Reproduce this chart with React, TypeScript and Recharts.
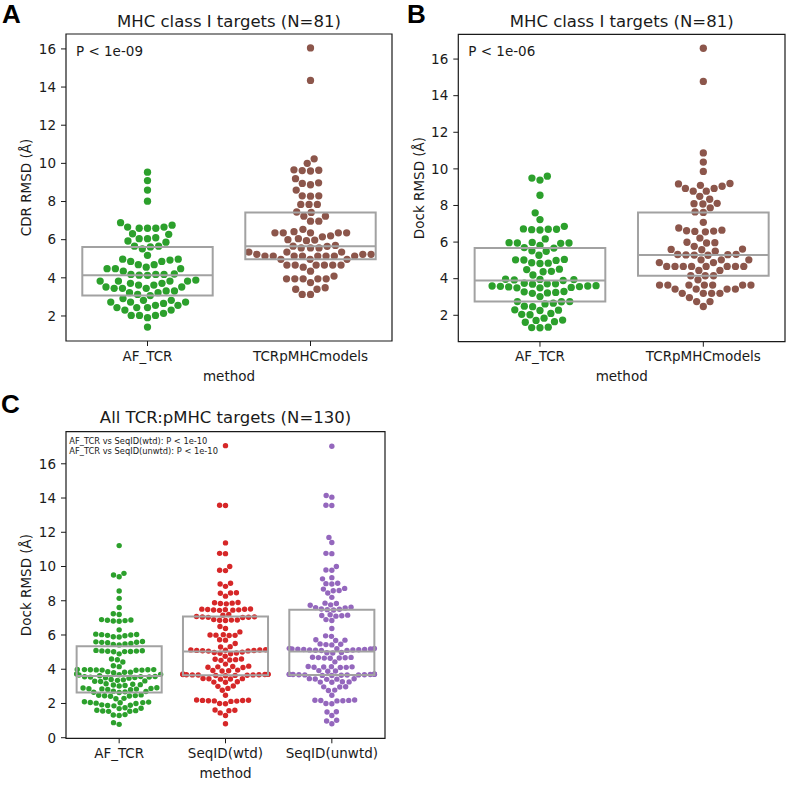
import React from "react";
import { ScatterChart, Scatter, XAxis, YAxis, ReferenceArea, ReferenceLine } from "recharts";

const FONT = "'DejaVu Sans', Verdana, sans-serif";

// --- panels A / B: MHC class I targets (N=81) ---
const mhcMethods = ["AF_TCR", "TCRpMHCmodels"];
const cdrAfTcr = [
    9.54, 9.1, 8.6, 8.02, 6.89, 6.76, 6.66, 6.66, 6.6, 6.6, 6.6, 6.31, 6.28, 6.1, 6.05, 6.05, 5.93, 5.87, 5.66, 5.66,
    5.62, 5.52, 5.18, 4.98, 4.98, 4.93, 4.86, 4.86, 4.69, 4.69, 4.56, 4.48, 4.48, 4.48, 4.35, 4.18, 4.18, 4.18, 4.2,
    4.14, 4.13, 3.88, 3.83, 3.83, 3.83, 3.83, 3.71, 3.71, 3.62, 3.62, 3.52, 3.52, 3.45, 3.45, 3.45, 3.31, 3.31, 3.22,
    3.22, 3.13, 3.07, 2.91, 2.82, 2.82, 2.73, 2.73, 2.73, 2.66, 2.56, 2.56, 2.44, 2.44, 2.44, 2.31, 2.31, 2.14, 2.03,
    2.03, 2.03, 1.91, 1.42,
];
const cdrModels = [
    16.05, 14.35, 10.24, 10.0, 9.66, 9.64, 9.62, 9.6, 9.2, 8.98, 8.95, 8.88, 8.6, 8.3, 8.3, 8.28, 7.85, 7.85, 7.85,
    7.45, 7.43, 7.23, 7.23, 6.97, 6.97, 6.54, 6.42, 6.36, 6.36, 6.36, 6.36, 6.36, 6.2, 6.15, 6.05, 6.0, 5.98, 5.95,
    5.7, 5.66, 5.65, 5.57, 5.57, 5.57, 5.35, 5.35, 5.35, 5.23, 5.23, 5.23, 5.14, 5.14, 5.14, 5.14, 5.14, 5.14, 5.14,
    5.14, 4.97, 4.97, 4.97, 4.67, 4.67, 4.67, 4.67, 4.67, 4.67, 4.56, 4.35, 4.09, 3.95, 3.95, 3.95, 3.95, 3.95, 3.75,
    3.48, 3.4, 3.4, 3.13, 3.13,
];
const dockAfTcr = [
    9.6, 9.5, 9.39, 8.56, 7.6, 7.23, 6.86, 6.72, 6.7, 6.7, 6.68, 6.66, 6.17, 5.98, 5.97, 5.95, 5.95, 5.93, 5.82, 5.7,
    5.67, 5.52, 5.5, 5.28, 5.05, 5.03, 5.02, 5.0, 4.87, 4.85, 4.83, 4.52, 4.5, 4.4, 4.38, 4.2, 3.97, 3.96, 3.95, 3.93,
    3.9, 3.75, 3.72, 3.72, 3.7, 3.62, 3.6, 3.6, 3.58, 3.57, 3.55, 3.52, 3.5, 3.5, 3.3, 3.28, 3.25, 3.22, 3.2, 3.02,
    2.75, 2.74, 2.75, 2.66, 2.62, 2.5, 2.47, 2.3, 2.28, 2.26, 2.1, 2.05, 2.03, 1.84, 1.74, 1.72, 1.65, 1.62, 1.35, 1.33,
    1.32,
];
const dockModels = [
    16.59, 14.78, 10.87, 10.37, 9.86, 9.2, 9.18, 9.1, 9.05, 8.93, 8.93, 8.78, 8.78, 8.5, 8.34, 8.12, 8.1, 8.08, 7.87,
    7.65, 7.62, 7.08, 6.77, 6.65, 6.62, 6.6, 6.58, 6.56, 6.22, 5.99, 5.97, 5.95, 5.77, 5.62, 5.6, 5.58, 5.5, 5.33,
    5.32, 5.31, 5.3, 5.29, 5.28, 5.03, 5.03, 5.03, 4.88, 4.88, 4.67, 4.67, 4.67, 4.67, 4.67, 4.67, 4.67, 4.67, 4.45,
    4.45, 4.16, 4.16, 4.16, 3.94, 3.65, 3.65, 3.65, 3.65, 3.65, 3.65, 3.65, 3.43, 3.43, 3.43, 3.43, 3.2, 3.2, 3.2, 3.2,
    2.97, 2.75, 2.75, 2.48,
];
const mhcTicks = [2, 4, 6, 8, 10, 12, 14, 16];

// --- panel C: all TCR:pMHC targets (N=130) ---
const allMethods = ["AF_TCR", "SeqID(wtd)", "SeqID(unwtd)"];
const allAfTcr = [
    11.22, 9.6, 9.5, 9.4, 8.57, 8.14, 7.61, 7.24, 7.2, 6.9, 6.88, 6.86, 6.84, 6.82, 6.8, 6.3, 6.05, 6.03, 6.02, 6.0,
    5.98, 5.96, 5.9, 5.88, 5.62, 5.6, 5.58, 5.57, 5.55, 5.5, 5.48, 5.45, 5.42,
    5.1, 5.08, 5.07, 5.06, 5.05, 5.04, 5.03, 5.02, 4.9, 4.6, 4.55, 4.42, 4.2, 4.15, 3.99, 3.98, 3.98, 3.97, 3.97, 3.96,
    3.95, 3.95, 3.94, 3.85, 3.83, 3.82, 3.8, 3.72, 3.7, 3.68, 3.66, 3.62,
    3.58, 3.57, 3.56, 3.55, 3.54, 3.52, 3.5, 3.48, 3.4, 3.38, 3.35, 3.32, 3.3, 3.28, 3.15, 3.12, 3.1, 3.08, 3.05, 3.02,
    2.92, 2.9, 2.88, 2.86, 2.85, 2.84, 2.82, 2.8, 2.72, 2.7, 2.68, 2.66, 2.64,
    2.5, 2.48, 2.46, 2.45, 2.44, 2.42, 2.3, 2.28, 2.1, 2.08, 2.06, 2.05, 2.04, 2.02, 2.0, 1.92, 1.9, 1.88, 1.86, 1.75,
    1.72, 1.7, 1.6, 1.58, 1.56, 1.55, 1.54, 1.35, 1.33, 1.3, 0.88, 0.78,
];
const allSeqWtd = [
    17.06, 13.58, 13.56, 11.38, 10.77, 10.75, 10.0, 9.78, 9.76, 9.02, 8.98, 8.84, 8.47, 8.45, 8.44, 8.27, 7.9, 7.88,
    7.86, 7.84, 7.82, 7.52, 7.51, 7.5, 7.49, 7.48, 7.47, 7.46, 7.45, 7.44, 7.2, 7.16,
    7.08, 7.06, 7.05, 7.04, 7.03, 7.02, 6.9, 6.88, 6.87, 6.86, 6.85, 6.5, 6.38, 6.18, 6.02, 6.0, 5.99, 5.98, 5.97,
    5.72, 5.7, 5.5, 5.32, 5.3, 5.14, 5.13, 5.12, 5.11, 5.1, 5.09, 5.08, 5.07, 5.06,
    5.0, 4.98, 4.95, 4.93, 4.9, 4.76, 4.6, 4.58, 4.56, 4.54, 4.52, 4.3, 4.18, 4.16, 4.14, 4.12, 4.1, 3.95, 3.93, 3.91,
    3.9, 3.72, 3.71, 3.7, 3.7, 3.69, 3.69, 3.68, 3.68, 3.67, 3.67, 3.66, 3.65,
    3.64, 3.63, 3.62, 3.46, 3.45, 3.44, 3.43, 3.42, 3.27, 3.25, 3.24, 3.02, 3.0, 2.88, 2.77, 2.48, 2.2, 2.19, 2.18,
    2.17, 2.16, 2.15, 2.14, 2.12, 2.0, 1.98, 1.62, 1.6, 1.58, 1.45, 1.3, 0.82,
];
const allSeqUnwtd = [
    17.02, 14.15, 14.05, 13.58, 13.56, 11.7, 11.4, 10.77, 10.75, 10.0, 9.8, 9.78, 9.35, 9.28, 9.02, 9.0, 8.98, 8.72,
    8.68, 8.6, 8.58, 8.45, 8.2, 7.86, 7.84, 7.76, 7.74, 7.62, 7.6, 7.58, 7.52, 7.5,
    7.48, 7.46, 7.18, 7.16, 7.14, 7.12, 7.1, 6.9, 6.85, 6.38, 5.95, 5.92, 5.72, 5.7, 5.68, 5.48, 5.46, 5.44, 5.42,
    5.22, 5.21, 5.2, 5.19, 5.18, 5.17, 5.16, 5.15, 5.14, 5.13, 5.12, 5.11, 5.1, 5.09,
    4.98, 4.96, 4.95, 4.7, 4.69, 4.68, 4.67, 4.66, 4.65, 4.64, 4.43, 4.16, 4.15, 4.14, 4.13, 4.12, 4.11, 4.1, 3.92, 3.9,
    3.88, 3.72, 3.71, 3.71, 3.7, 3.7, 3.69, 3.69, 3.68, 3.68, 3.67, 3.67, 3.66,
    3.65, 3.64, 3.63, 3.45, 3.44, 3.43, 3.42, 3.41, 3.27, 3.26, 3.25, 3.24, 2.98, 2.97, 2.96, 2.78, 2.76, 2.48, 2.2,
    2.19, 2.18, 2.17, 2.16, 2.15, 2.0, 1.98, 1.52, 1.5, 1.3, 1.02, 0.98, 0.82,
];
const allTicks = [0, 2, 4, 6, 8, 10, 12, 14, 16];

const GREEN = "#2ca02c";
const BROWN = "#8c564b";
const RED = "#d62728";
const PURPLE = "#9467bd";
const BOX = "#a2a2a2";
const INK = "#1a1a1a";

// numpy-style linear quantile
function quantile(vals: number[], q: number) {
    const s = [...vals].sort((a, b) => a - b);
    const pos = (s.length - 1) * q;
    const lo = Math.floor(pos);
    const hi = Math.ceil(pos);
    return s[lo] + (s[hi] - s[lo]) * (pos - lo);
}

// beeswarm like seaborn: lowest value first, closest free slot, then clamp to the gutters
function swarm(vals: number[], pxPerY: number, gap: number, limit: number) {
    const order = vals.map((_, i) => i).sort((a, b) => vals[a] - vals[b]);
    const placed: { x: number; y: number }[] = [];
    const out: number[] = new Array(vals.length).fill(0);
    for (const idx of order) {
        const y = vals[idx] * pxPerY;
        const near = placed.filter(p => Math.abs(p.y - y) < gap);
        const cands = [0];
        near.forEach(p => {
            const dx = Math.sqrt(gap * gap - (p.y - y) * (p.y - y));
            cands.push(p.x - dx, p.x + dx);
        });
        cands.sort((a, b) => Math.abs(a) - Math.abs(b));
        let best = 0;
        for (const c of cands) {
            if (near.every(p => (p.x - c) ** 2 + (p.y - y) ** 2 >= gap * gap - 1e-6)) {
                best = c;
                break;
            }
        }
        placed.push({ x: best, y });
        out[idx] = best;
    }
    return out.map(o => Math.max(-limit, Math.min(limit, o)));
}

interface PanelProps {
    left: number;
    top: number;
    width: number;
    height: number;
    plot: { x0: number; x1: number; y0: number; y1: number };
    methods: string[];
    series: number[][];
    colors: string[];
    yTicks: number[];
    dotR: number;
    gap: number;
}

const YW = 40;
const XH = 30;

const SwarmPanel: React.FC<PanelProps> = ({ left, top, width, height, plot, methods, series, colors, yTicks, dotR, gap }) => {
    const all = series.flat();
    const lo = Math.min(...all);
    const hi = Math.max(...all);
    const pad = (hi - lo) * 0.05;
    const yMin = lo - pad;
    const yMax = hi + pad;
    const n = methods.length;
    const pxPerY = (plot.y1 - plot.y0) / (yMax - yMin);
    const pxPerX = (plot.x1 - plot.x0) / n;

    const tickStyle = { fontSize: 13.5, fill: INK, fontFamily: FONT };

    return (
        <div style={{ position: "absolute", left, top }}>
            <ScatterChart
                width={width}
                height={height}
                margin={{ top: plot.y0, right: width - plot.x1, bottom: height - plot.y1 - XH, left: plot.x0 - YW }}
            >
                <XAxis
                    type="number"
                    dataKey="x"
                    domain={[-0.5, n - 0.5]}
                    ticks={methods.map((_, i) => i)}
                    tickFormatter={(v: number) => methods[Math.round(v)]}
                    interval={0}
                    allowDataOverflow
                    height={XH}
                    axisLine={false}
                    tickSize={5}
                    tickMargin={5}
                    stroke={INK}
                    tick={tickStyle}
                />
                <YAxis
                    type="number"
                    dataKey="y"
                    domain={[yMin, yMax]}
                    ticks={yTicks}
                    interval={0}
                    allowDataOverflow
                    width={YW}
                    axisLine={false}
                    tickSize={5}
                    tickMargin={5}
                    stroke={INK}
                    tick={tickStyle}
                />
                {series.map((vals, i) => {
                    const offs = swarm(vals, pxPerY, gap, 0.4 * pxPerX);
                    const data = vals.map((v, k) => ({ x: i + offs[k] / pxPerX, y: v }));
                    return (
                        <Scatter
                            key={methods[i]}
                            data={data}
                            fill={colors[i]}
                            isAnimationActive={false}
                            shape={(p: any) => <circle cx={p.cx} cy={p.cy} r={dotR} fill={colors[i]} />}
                        />
                    );
                })}
                {series.map((vals, i) => (
                    <ReferenceArea
                        key={"box" + i}
                        x1={i - 0.4}
                        x2={i + 0.4}
                        y1={quantile(vals, 0.25)}
                        y2={quantile(vals, 0.75)}
                        fill="none"
                        fillOpacity={0}
                        stroke={BOX}
                        strokeWidth={2}
                        zIndex={700}
                    />
                ))}
                {series.map((vals, i) => (
                    <ReferenceLine
                        key={"med" + i}
                        segment={[
                            { x: i - 0.4, y: quantile(vals, 0.5) },
                            { x: i + 0.4, y: quantile(vals, 0.5) },
                        ]}
                        stroke={BOX}
                        strokeWidth={2}
                        zIndex={700}
                    />
                ))}
                <ReferenceArea
                    x1={-0.5}
                    x2={n - 0.5}
                    y1={yMin}
                    y2={yMax}
                    fill="none"
                    fillOpacity={0}
                    stroke={INK}
                    strokeWidth={1.2}
                    zIndex={700}
                />
            </ScatterChart>
        </div>
    );
};

export default function App() {
    const letter = { fontFamily: "'Liberation Sans', Arial, sans-serif", fontWeight: 700, fontSize: 26, fill: "#000" };
    const title = { fontFamily: FONT, fontSize: 16.5, fill: INK, textAnchor: "middle" as const };
    const label = { fontFamily: FONT, fontSize: 13.5, fill: INK, textAnchor: "middle" as const };
    const note = { fontFamily: FONT, fontSize: 13.5, fill: INK };
    const small = { fontFamily: FONT, fontSize: 8.3, fill: INK };

    return (
        <div style={{ position: "absolute", left: 0, top: 0, width: 800, height: 797, background: "#fff" }}>
            <SwarmPanel
                left={0}
                top={0}
                width={400}
                height={390}
                plot={{ x0: 66, x1: 392, y0: 34, y1: 341 }}
                methods={mhcMethods}
                series={[cdrAfTcr, cdrModels]}
                colors={[GREEN, BROWN]}
                yTicks={mhcTicks}
                dotR={3.65}
                gap={8.3}
            />
            <SwarmPanel
                left={400}
                top={0}
                width={400}
                height={390}
                plot={{ x0: 58.3, x1: 385, y0: 34.3, y1: 341.7 }}
                methods={mhcMethods}
                series={[dockAfTcr, dockModels]}
                colors={[GREEN, BROWN]}
                yTicks={mhcTicks}
                dotR={3.65}
                gap={8.3}
            />
            <SwarmPanel
                left={0}
                top={390}
                width={400}
                height={407}
                plot={{ x0: 66, x1: 385, y0: 41.7, y1: 348.3 }}
                methods={allMethods}
                series={[allAfTcr, allSeqWtd, allSeqUnwtd]}
                colors={[GREEN, RED, PURPLE]}
                yTicks={allTicks}
                dotR={2.7}
                gap={5.9}
            />
            <svg width={800} height={797} style={{ position: "absolute", left: 0, top: 0, pointerEvents: "none" }}>
                <text x={2} y={23} {...letter}>A</text>
                <text x={407} y={23} {...letter}>B</text>
                <text x={1} y={413} {...letter}>C</text>

                <text x={229} y={26.5} {...title}>MHC class I targets (N=81)</text>
                <text x={621.7} y={26.5} {...title}>MHC class I targets (N=81)</text>
                <text x={225.5} y={423.3} {...title}>All TCR:pMHC targets (N=130)</text>

                <text x={76} y={56} {...note}>P &lt; 1e-09</text>
                <text x={468.3} y={56} {...note}>P &lt; 1e-06</text>
                <text x={69.3} y={444.3} {...small}>AF_TCR vs SeqID(wtd): P &lt; 1e-10</text>
                <text x={69.3} y={453.7} {...small}>AF_TCR vs SeqID(unwtd): P &lt; 1e-10</text>

                <text x={229} y={381} {...label}>method</text>
                <text x={621.7} y={381} {...label}>method</text>
                <text x={225.5} y={777.5} {...label}>method</text>

                <text transform="translate(31,187.5) rotate(-90)" {...label}>CDR RMSD (Å)</text>
                <text transform="translate(423.5,188) rotate(-90)" {...label}>Dock RMSD (Å)</text>
                <text transform="translate(30.7,585) rotate(-90)" {...label}>Dock RMSD (Å)</text>
            </svg>
        </div>
    );
}
